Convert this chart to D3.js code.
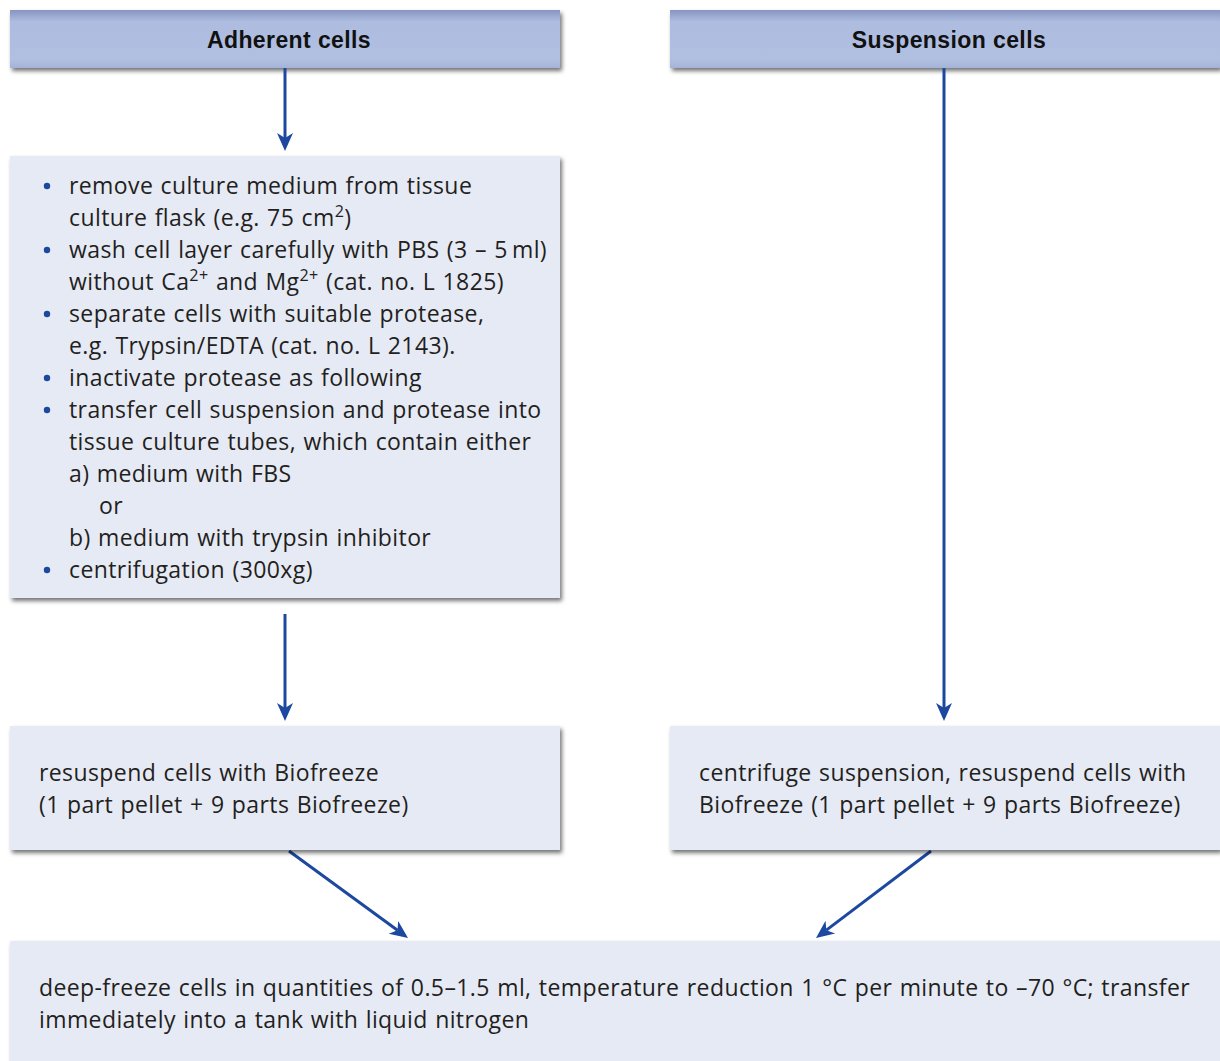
<!DOCTYPE html>
<html>
<head>
<meta charset="utf-8">
<script src="https://cdn.jsdelivr.net/npm/d3@7"></script>
<style>
  body { margin: 0; background: #fff; }
  svg text { font-family: "Open Sans", "Noto Sans", sans-serif; fill: #231f20; }
  .body-text { letter-spacing: 0.4px; word-spacing: 1px; }
</style>
</head>
<body>
<div id="chart"></div>
<script>
// flowchart content
var headers = ["Adherent cells", "Suspension cells"];

// adherent steps: [bullet?, indent, text parts]  (parts: plain string or {sup: ".."})
var adherentSteps = [
  [true, 0, ["remove culture medium from tissue"]],
  [false, 0, ["culture flask (e.g. 75 cm", {sup: "2"}, ")"]],
  [true, 0, ["wash cell layer carefully with PBS (3 \u2013 5\u2009ml)"]],
  [false, 0, ["without Ca", {sup: "2+"}, " and Mg", {sup: "2+"}, " (cat. no. L 1825)"]],
  [true, 0, ["separate cells with suitable protease,"]],
  [false, 0, ["e.g. Trypsin/EDTA (cat. no. L 2143)."]],
  [true, 0, ["inactivate protease as following"]],
  [true, 0, ["transfer cell suspension and protease into"]],
  [false, 0, ["tissue culture tubes, which contain either"]],
  [false, 0, ["a) medium with FBS"]],
  [false, 1, ["or"]],
  [false, 0, ["b) medium with trypsin inhibitor"]],
  [true, 0, ["centrifugation (300xg)"]]
];

var resuspendLeft = ["resuspend cells with Biofreeze", "(1 part pellet + 9 parts Biofreeze)"];
var resuspendRight = ["centrifuge suspension, resuspend cells with", "Biofreeze (1 part pellet + 9 parts Biofreeze)"];
var freezeText = ["deep-freeze cells in quantities of 0.5\u20131.5 ml, temperature reduction 1 \u00B0C per minute to \u201370 \u00B0C; transfer",
                  "immediately into a tank with liquid nitrogen"];

// layout
var W = 1220, H = 1061;
var col = d3.scaleOrdinal().domain(["left", "right"]).range([10, 670]);
var colW = 550;
var lineH = 32;
var fontSize = 23;
var blue = "#1c48a0";

var svg = d3.select("#chart").append("svg")
  .attr("width", W).attr("height", H);

var defs = svg.append("defs");
var f = defs.append("filter").attr("id", "shadow")
  .attr("x", "-5%").attr("y", "-10%").attr("width", "115%").attr("height", "130%");
f.append("feDropShadow").attr("dx", 2).attr("dy", 3).attr("stdDeviation", 2.2)
  .attr("flood-color", "#000").attr("flood-opacity", 0.55);

var g1 = defs.append("linearGradient").attr("id", "hdr").attr("x1", 0).attr("y1", 0).attr("x2", 0).attr("y2", 1);
g1.append("stop").attr("offset", "0%").attr("stop-color", "#8795c0");
g1.append("stop").attr("offset", "20%").attr("stop-color", "#adbcdf");
g1.append("stop").attr("offset", "85%").attr("stop-color", "#b1c0e1");
g1.append("stop").attr("offset", "100%").attr("stop-color", "#a4b3d8");

function box(x, y, w, h, fill) {
  svg.append("rect").attr("x", x).attr("y", y).attr("width", w).attr("height", h)
    .attr("fill", fill).attr("filter", "url(#shadow)");
}

function arrow(x1, y1, x2, y2) {
  var a = Math.atan2(y2 - y1, x2 - x1);
  var len = 18, half = 8, notch = 5;
  var bx = x2 - len * Math.cos(a), by = y2 - len * Math.sin(a);
  svg.append("line")
    .attr("x1", x1).attr("y1", y1)
    .attr("x2", x2 - (len - notch) * Math.cos(a)).attr("y2", y2 - (len - notch) * Math.sin(a))
    .attr("stroke", blue).attr("stroke-width", 3);
  var px = -Math.sin(a), py = Math.cos(a);
  var nx = x2 - (len - notch) * Math.cos(a), ny = y2 - (len - notch) * Math.sin(a);
  svg.append("path")
    .attr("d", "M" + x2 + "," + y2 +
      "L" + (bx + half * px) + "," + (by + half * py) +
      "L" + nx + "," + ny +
      "L" + (bx - half * px) + "," + (by - half * py) + "Z")
    .attr("fill", blue);
}

// text line with optional superscripts
function writeLine(parent, x, y0, parts) {
  var t = parent.append("text").attr("class", "body-text")
    .attr("x", x).attr("y", y0).attr("font-size", fontSize);
  var raised = false;
  parts.forEach(function(p) {
    if (typeof p === "string") {
      t.append("tspan").attr("dy", raised ? 9 : null).text(p);
      raised = false;
    } else {
      t.append("tspan").attr("dy", -9).attr("font-size", fontSize * 0.7).text(p.sup);
      raised = true;
    }
  });
  return t;
}

// headers
headers.forEach(function(h, i) {
  var x = col(i ? "right" : "left");
  box(x, 10, colW, 58, "url(#hdr)");
  svg.append("text").attr("x", x + colW / 2 + 4).attr("y", 48)
    .attr("text-anchor", "middle")
    .style("font-family", "'Liberation Sans', Arial, sans-serif")
    .style("letter-spacing", "0.4px")
    .attr("font-weight", "bold").attr("font-size", 23)
    .style("fill", "#111").text(h);
});

// arrows
arrow(285, 68, 285, 151);
arrow(285, 614, 285, 721);
arrow(944, 68, 944, 721);
arrow(289, 851, 408, 938);
arrow(931, 851, 816, 938);

// adherent steps box
var boxFill = "#e6eaf5";
box(col("left"), 156, colW, 442, boxFill);
var steps = svg.append("g");
adherentSteps.forEach(function(s, i) {
  var y = 194 + i * lineH;
  if (s[0]) {
    steps.append("circle").attr("cx", 47).attr("cy", y - 8).attr("r", 3.2).attr("fill", blue);
  }
  writeLine(steps, 69 + s[1] * 30, y, s[2]);
});

// resuspend boxes
box(col("left"), 726, colW, 124, boxFill);
resuspendLeft.forEach(function(l, i) {
  writeLine(svg, 39, 781 + i * lineH, [l]);
});
box(col("right"), 726, colW, 124, boxFill);
resuspendRight.forEach(function(l, i) {
  writeLine(svg, 699, 781 + i * lineH, [l]);
});

// deep freeze box
box(10, 941, 1210, 130, boxFill);
freezeText.forEach(function(l, i) {
  writeLine(svg, 39, 996 + i * lineH, [l]);
});
</script>
</body>
</html>
